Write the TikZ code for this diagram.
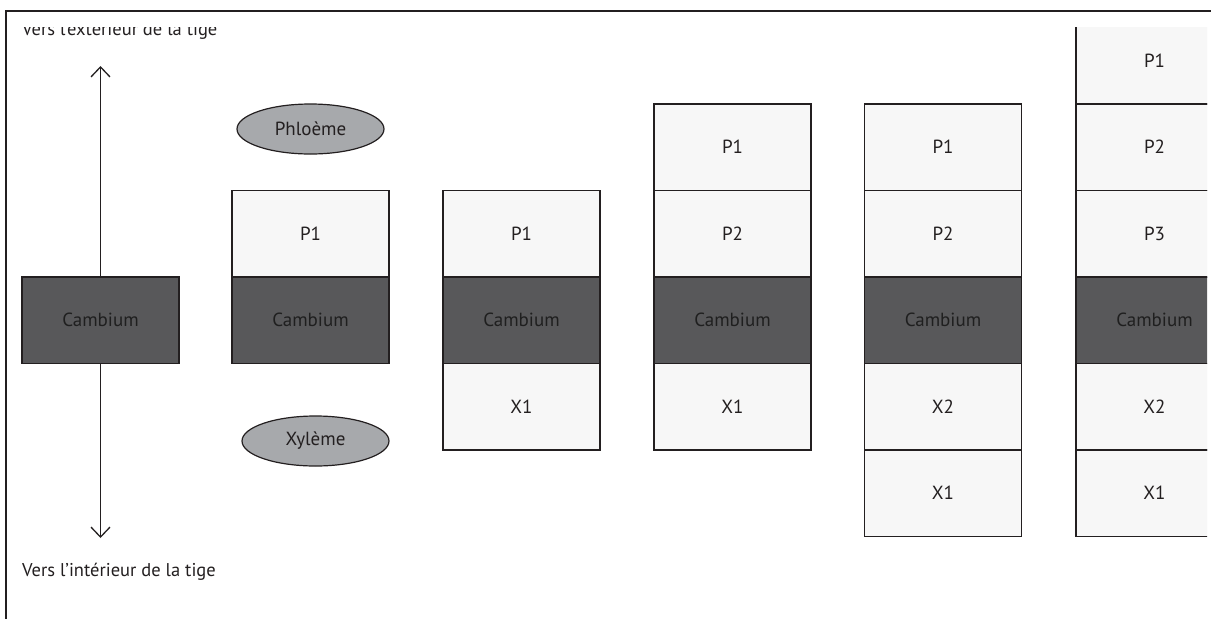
\documentclass[tikz,border=0pt]{standalone}
\usepackage{fontspec}
\setmainfont{PT Sans}
\usetikzlibrary{positioning,shapes.geometric,arrows.meta}

\definecolor{cambgray}{HTML}{58585A}
\definecolor{cellgray}{HTML}{F7F7F7}
\definecolor{ovalgray}{HTML}{A7A9AC}
\definecolor{inkgray}{HTML}{231F20}

\tikzset{
  cell/.style={draw=inkgray, line width=1.5pt, fill=cellgray, text=inkgray,
    minimum width=157pt, minimum height=86.5pt, inner sep=0pt, outer sep=0pt,
    font=\fontsize{19}{21}\selectfont},
  camb/.style={cell, fill=cambgray, text=black!88},
  tissue/.style={ellipse, draw=inkgray, line width=1.2pt, fill=ovalgray, text=inkgray,
    minimum width=147pt, minimum height=50pt, inner sep=0pt,
    font=\fontsize{19}{21}\selectfont},
  side/.style={text=inkgray, inner sep=0pt, anchor=base west, font=\fontsize{18.5}{21}\selectfont},
  growth/.style={draw=inkgray, line width=1.3pt, -{Straight Barb[length=10pt, width=19pt, line width=1.3pt]}}
}

\begin{document}
\begin{tikzpicture}[x=1pt, y=-1pt]
  \useasboundingbox (0,0) rectangle (1211,619);
  \fill[white] (0,0) rectangle (1211,619);

  \begin{scope}
    \clip (6,27) rectangle (1207,619);

    % direction of growth
    \node[side] (outtxt) at (22,35) {Vers l’extérieur de la tige};
    \node[side] (intxt) at (22,576) {Vers l’intérieur de la tige};
    \node[camb] (camb0) at (100.5,320) {Cambium};
    \coordinate (outer) at (100.5,66);
    \coordinate (inner) at (100.5,538);
    \draw[growth] (camb0) -- (outer);
    \draw[growth] (camb0) -- (inner);

    % first division
    \node[camb] (camb1) at (310.5,320) {Cambium};
    \node[cell, above=0pt of camb1] (p1a) {P1};
    \node[tissue] (phloeme) at (310.5,129) {Phloème};
    \node[tissue] (xyleme) at (315.5,441) {Xylème};

    % second division
    \node[camb] (camb2) at (521.5,320) {Cambium};
    \node[cell, above=0pt of camb2] (p1b) {P1};
    \node[cell, below=0pt of camb2] (x1b) {X1};

    % third division
    \node[camb] (camb3) at (732.5,320) {Cambium};
    \node[cell, above=0pt of camb3] (p2c) {P2};
    \node[cell, above=0pt of p2c] (p1c) {P1};
    \node[cell, below=0pt of camb3] (x1c) {X1};

    % fourth division
    \node[camb] (camb4) at (943,320) {Cambium};
    \node[cell, above=0pt of camb4] (p2d) {P2};
    \node[cell, above=0pt of p2d] (p1d) {P1};
    \node[cell, below=0pt of camb4] (x2d) {X2};
    \node[cell, below=0pt of x2d] (x1d) {X1};

    % fifth division
    \node[camb] (camb5) at (1154.5,320) {Cambium};
    \node[cell, above=0pt of camb5] (p3e) {P3};
    \node[cell, above=0pt of p3e] (p2e) {P2};
    \node[cell, above=0pt of p2e] (p1e) {P1};
    \node[cell, below=0pt of camb5] (x2e) {X2};
    \node[cell, below=0pt of x2e] (x1e) {X1};
  \end{scope}

  % frame
  \draw[inkgray, line width=2pt] (1211,11) -| (6,619);
\end{tikzpicture}
\end{document}
